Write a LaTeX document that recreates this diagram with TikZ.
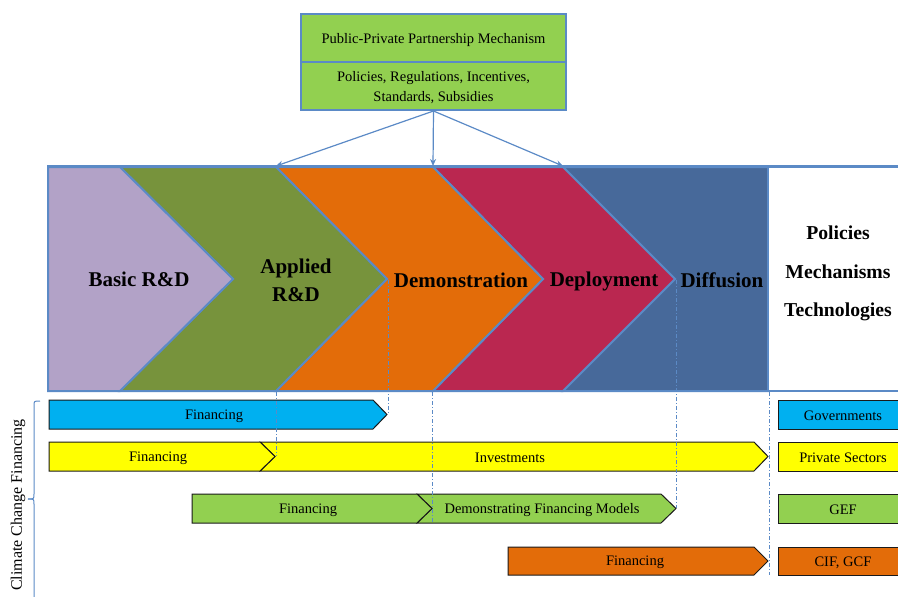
\documentclass[tikz,border=0pt]{standalone}
\usepackage{fontspec}
\setmainfont{Liberation Serif}
\usetikzlibrary{arrows.meta}
\definecolor{lav}{HTML}{B2A2C7}
\definecolor{olive}{HTML}{77933C}
\definecolor{orng}{HTML}{E36C09}
\definecolor{crim}{HTML}{BA2750}
\definecolor{steel}{HTML}{47699A}
\definecolor{edgeblue}{HTML}{5B8AC6}
\definecolor{lgreen}{HTML}{92D050}
\definecolor{cyanb}{HTML}{00B0F0}
\definecolor{yel}{HTML}{FFFF00}
\definecolor{darkline}{HTML}{1A1A1A}
\begin{document}
\begin{tikzpicture}[x=1pt,y=-1pt,
  chev/.style={draw=edgeblue, line width=2pt, line join=miter},
  bigtxt/.style={font=\fontsize{21}{26}\selectfont\bfseries, align=center, inner sep=0pt},
  sidetxt/.style={font=\fontsize{19.7}{24}\selectfont\bfseries, align=center, inner sep=0pt},
  smalltxt/.style={font=\fontsize{14.5}{17}\selectfont, align=center, inner sep=0pt, yshift=-1.5pt},
  bar/.style={draw=darkline, line width=1pt, line join=miter},
  conn/.style={draw=edgeblue, line width=1.2pt, -{Stealth[length=7pt,width=6pt,open]}},
  guide/.style={draw=edgeblue, line width=0.8pt, dash pattern=on 4pt off 2pt on 1pt off 2pt}]
\useasboundingbox (0,0) rectangle (898,597);
\clip (0,0) rectangle (898,597);

% top box
\node[draw=edgeblue, line width=2pt, fill=lgreen, minimum width=265pt, minimum height=96pt, inner sep=0pt] (ppp) at (433.5,62) {};
\draw[edgeblue, line width=2pt] (ppp.west |- 0,62) -- (ppp.east |- 0,62);
\node[smalltxt] (ppptitle) at (433.5,39) {Public-Private Partnership Mechanism};
\node[smalltxt, font=\fontsize{14.5}{20}\selectfont] (pppsub) at (433.5,86) {Policies, Regulations, Incentives,\\Standards, Subsidies};

% chevrons
\path[chev, fill=steel] (563,167) -- (768,167) -- (768,391) -- (563,391) -- (675,279) -- cycle;
\path[chev, fill=white] (768,167) -- (905,167) -- (905,391) -- (768,391) -- cycle;
\path[chev, fill=crim] (433,167) -- (563,167) -- (675,279) -- (563,391) -- (433,391) -- (543,279) -- cycle;
\path[chev, fill=orng] (276,167) -- (433,167) -- (543,279) -- (433,391) -- (276,391) -- (387,279) -- cycle;
\path[chev, fill=olive] (120,167) -- (276,167) -- (387,279) -- (276,391) -- (120,391) -- (233,279) -- cycle;
\path[chev, fill=lav] (48,167) -- (120,167) -- (233,279) -- (120,391) -- (48,391) -- cycle;
\draw[edgeblue, line width=2pt] (48,166) rectangle (905,391);

\coordinate (tA) at (276,166);
\coordinate (tB) at (433,166);
\coordinate (tC) at (563,166);
\draw[conn] (ppp.south) -- (tA);
\draw[conn] (ppp.south) -- (tB);
\draw[conn] (ppp.south) -- (tC);

\node[bigtxt] (basic) at (139,279) {Basic R\&D};
\node[bigtxt, font=\fontsize{21}{28}\selectfont\bfseries] (applied) at (296,280) {Applied\\R\&D};
\node[bigtxt] (demo) at (461,280) {Demonstration};
\node[bigtxt] (deploy) at (604,281) {Deployment};
\node[bigtxt] (diff) at (722,280) {Diffusion};
\node[sidetxt] (pol) at (838,233) {Policies};
\node[sidetxt] (mech) at (838,272) {Mechanisms};
\node[sidetxt] (tech) at (838,312) {Technologies};

% financing bars
\path[bar, fill=cyanb] (49,400) -- (373,400) -- (387,414.5) -- (373,429) -- (49,429) -- cycle;
\path[bar, fill=yel] (260,442) -- (754,442) -- (768,456.5) -- (754,471) -- (260,471) -- (275,456.5) -- cycle;
\path[bar, fill=yel] (49,442) -- (260,442) -- (275,456.5) -- (260,471) -- (49,471) -- cycle;
\path[bar, fill=lgreen] (417,494) -- (661,494) -- (676,508.5) -- (661,523) -- (417,523) -- (432,508.5) -- cycle;
\path[bar, fill=lgreen] (192,494) -- (417,494) -- (432,508.5) -- (417,523) -- (192,523) -- cycle;
\path[bar, fill=orng] (508,547) -- (754,547) -- (768,561) -- (754,575) -- (508,575) -- cycle;

\path[bar, fill=cyanb] (778,400) rectangle (910,429);
\path[bar, fill=yel] (778,442) rectangle (910,471);
\path[bar, fill=lgreen] (778,494) rectangle (910,523);
\path[bar, fill=orng] (778,547) rectangle (910,575);

\node[smalltxt] (f1) at (214,414.5) {Financing};
\node[smalltxt] (f2) at (158,456.5) {Financing};
\node[smalltxt] (inv) at (510,456.5) {Investments};
\node[smalltxt] (f3) at (308,508.5) {Financing};
\node[smalltxt] (dfm) at (542,508.5) {Demonstrating Financing Models};
\node[smalltxt] (f4) at (635,561) {Financing};
\node[smalltxt] (gov) at (843,414.5) {Governments};
\node[smalltxt] (priv) at (843,456.5) {Private Sectors};
\node[smalltxt] (gef) at (843,508.5) {GEF};
\node[smalltxt] (cif) at (843,561) {CIF, GCF};

% guide lines
\draw[guide] (276,392) -- (276,456);
\draw[guide] (388,280) -- (388,414);
\draw[guide] (432,392) -- (432,523);
\draw[guide] (676,280) -- (676,508);
\draw[guide] (769,392) -- (769,575);

% brace
\draw[edgeblue, line width=1pt] (40,401) .. controls (34,401) .. (34,406) -- (34,494) .. controls (34,499) .. (28,499);
\draw[edgeblue, line width=1pt] (28,499) .. controls (34,499) .. (34,504) -- (34,600);
\node[rotate=90, font=\fontsize{16}{19}\selectfont, inner sep=0pt] (ccf) at (18,505) {Climate Change Financing};
\end{tikzpicture}
\end{document}
